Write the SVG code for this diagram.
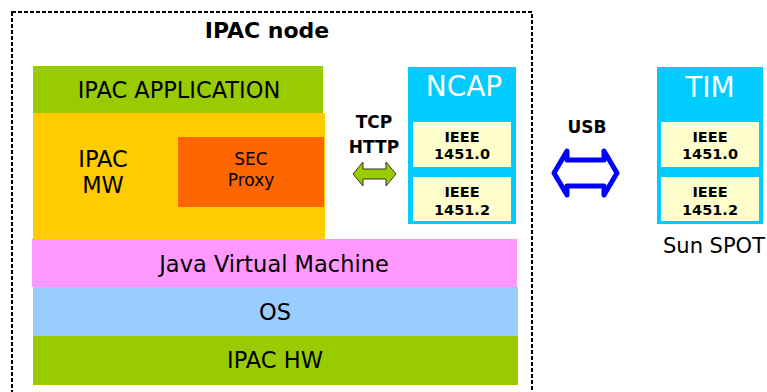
<svg xmlns="http://www.w3.org/2000/svg" width="767" height="392" viewBox="0 0 767 392">
  <style>
    text { font-family: "DejaVu Sans", Verdana, sans-serif; fill: #000; text-anchor: middle; }
    .layer { font-size: 22.5px; }
    .bold { font-weight: bold; }
    .ieee { font-size: 14.5px; font-weight: bold; }
    .title { font-size: 28px; fill: #fff; }
    .cyan { fill: #00CCFF; }
    .std { fill: #FFFFCC; }
  </style>

  <rect width="767" height="392" fill="#fff"/>

  <!-- IPAC node boundary -->
  <g id="ipac-node">
    <rect x="12" y="12" width="520" height="400" fill="none" stroke="#000" stroke-width="2" stroke-dasharray="4 2"/>
    <text x="267" y="38" class="bold" font-size="22">IPAC node</text>
  </g>

  <g id="ipac-application">
    <rect x="33" y="66" width="290" height="47" fill="#99CC00"/>
    <text x="179" y="98" class="layer">IPAC APPLICATION</text>
  </g>

  <g id="ipac-mw">
    <rect x="33" y="113" width="292" height="126" fill="#FFCC00"/>
    <text x="103" y="167" class="layer">IPAC</text>
    <text x="103" y="193" class="layer">MW</text>
  </g>

  <g id="sec-proxy">
    <rect x="178" y="137" width="146" height="70" fill="#FF6600"/>
    <text x="251" y="165" font-size="17">SEC</text>
    <text x="251" y="186" font-size="17">Proxy</text>
  </g>

  <g id="jvm">
    <rect x="32" y="239" width="485" height="48" fill="#FF99FF"/>
    <text x="274" y="272" class="layer">Java Virtual Machine</text>
  </g>

  <g id="os">
    <rect x="33" y="287" width="485" height="49" fill="#99CCFF"/>
    <text x="275" y="320" class="layer">OS</text>
  </g>

  <g id="ipac-hw">
    <rect x="33" y="336" width="485" height="49" fill="#99CC00"/>
    <text x="275" y="368" class="layer">IPAC HW</text>
  </g>

  <g id="ncap">
    <rect x="408" y="67" width="108" height="157" class="cyan"/>
    <text x="464" y="96" class="title">NCAP</text>
    <rect x="413" y="122" width="98" height="45" class="std"/>
    <text x="462" y="142" class="ieee">IEEE</text>
    <text x="462" y="159" class="ieee">1451.0</text>
    <rect x="413" y="177" width="98" height="44" class="std"/>
    <text x="462" y="197" class="ieee">IEEE</text>
    <text x="462" y="215" class="ieee">1451.2</text>
  </g>

  <g id="tim">
    <rect x="657" y="67" width="106" height="157" class="cyan"/>
    <text x="710" y="97" class="title">TIM</text>
    <rect x="661" y="122" width="98" height="45" class="std"/>
    <text x="710" y="142" class="ieee">IEEE</text>
    <text x="710" y="159" class="ieee">1451.0</text>
    <rect x="661" y="177" width="98" height="44" class="std"/>
    <text x="710" y="197" class="ieee">IEEE</text>
    <text x="710" y="215" class="ieee">1451.2</text>
    <text x="714" y="253" font-size="21">Sun SPOT</text>
  </g>

  <!-- links between the IPAC node, NCAP and TIM -->
  <g id="connectors">
    <polygon points="353,174 363,162 363,169 386,169 386,162 396,174 386,186 386,179 363,179 363,186"
             fill="#99CC00" stroke="#333" stroke-width="1" stroke-linejoin="round"/>
    <text x="374" y="128" class="bold" font-size="17">TCP</text>
    <text x="374" y="153" class="bold" font-size="17">HTTP</text>

    <polygon points="554,173 567,151 567,160 604,160 604,151 617,173 604,195 604,186 567,186 567,195"
             fill="#fff" stroke="#0000FF" stroke-width="5" stroke-linejoin="round"/>
    <text x="587" y="133" class="bold" font-size="17">USB</text>
  </g>
</svg>
